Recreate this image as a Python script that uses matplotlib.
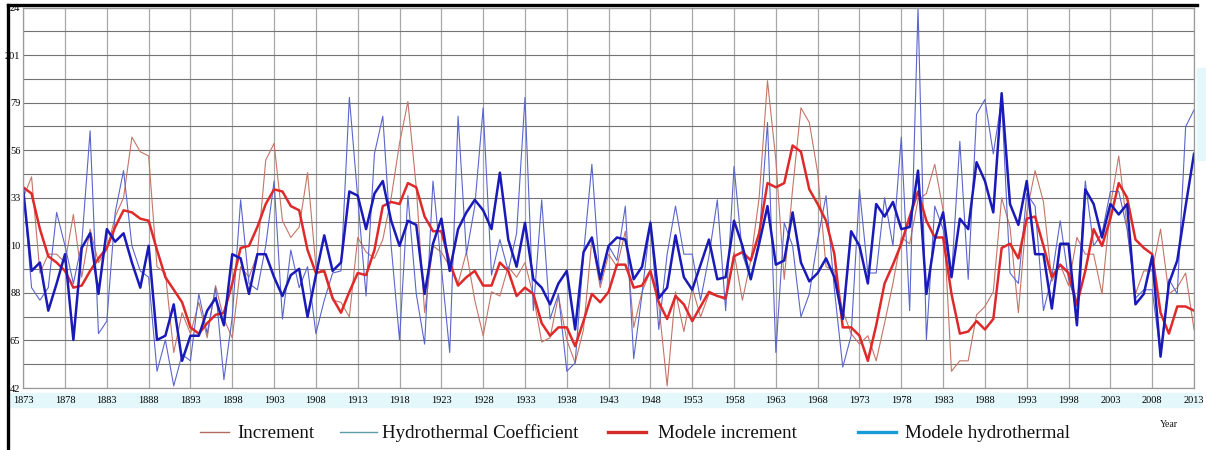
import numpy as np
import matplotlib.pyplot as plt
from matplotlib.lines import Line2D
from matplotlib.patches import Rectangle

plt.rcParams['font.family'] = ['Liberation Serif', 'DejaVu Serif']

years = np.arange(1873, 2014)

increment = [
    133, 143, 97, 106, 106, 102, 125, 95, 118, 102,   # 1873
    108, 124, 133, 162, 155, 153, 100, 97, 59, 78,    # 1883
    68, 83, 66, 91, 75, 66, 100, 95, 106, 151,        # 1893
    159, 122, 114, 119, 145, 100, 97, 84, 83, 76,     # 1903
    114, 107, 104, 113, 133, 159, 179, 138, 78, 110,  # 1913
    107, 100, 92, 107, 84, 67, 88, 86, 100, 95,       # 1923
    102, 86, 64, 66, 86, 65, 54, 70, 113, 90,         # 1933
    106, 100, 117, 71, 88, 98, 82, 43, 88, 69,        # 1943
    90, 76, 87, 86, 84, 107, 84, 103, 133, 189,       # 1953
    151, 94, 137, 176, 169, 145, 100, 98, 79, 68,     # 1963
    63, 67, 55, 73, 92, 114, 111, 132, 135, 149,      # 1973
    127, 50, 55, 55, 77, 81, 88, 133, 119, 78,        # 1983
    126, 146, 131, 93, 101, 91, 114, 106, 106, 87,    # 1993
    129, 153, 119, 87, 98, 98, 118, 87, 90, 97,       # 2003
    70,
]

hydro_coef = [
    138, 90, 84, 90, 126, 110, 92, 111, 165, 68,
    74, 126, 146, 110, 98, 95, 50, 65, 43, 58,
    55, 87, 68, 90, 46, 76, 132, 92, 89, 110,
    141, 75, 108, 90, 100, 68, 84, 97, 98, 181,
    133, 86, 154, 172, 110, 65, 134, 87, 63, 141,
    100, 59, 172, 106, 129, 176, 96, 113, 98, 116,
    181, 79, 132, 75, 87, 50, 54, 106, 149, 92,
    110, 103, 129, 56, 87, 122, 70, 106, 129, 106,
    106, 84, 105, 132, 79, 148, 106, 94, 113, 169,
    59, 121, 110, 76, 87, 113, 134, 89, 52, 67,
    137, 97, 97, 133, 110, 162, 79, 224, 65, 129,
    118, 95, 160, 94, 173, 180, 154, 180, 97, 92,
    135, 129, 79, 95, 122, 94, 81, 141, 110, 116,
    136, 136, 118, 85, 89, 89, 58, 94, 87, 167,
    175,
]

model_increment = [
    138, 135, 118, 105, 102, 98, 90, 91, 98, 104,
    109, 119, 127, 126, 123, 122, 108, 95, 89, 83,
    71, 68, 73, 77, 78, 92, 109, 110, 119, 130,
    137, 136, 129, 127, 108, 97, 98, 85, 78, 88,
    97, 96, 108, 129, 131, 130, 140, 138, 124, 117,
    117, 102, 91, 95, 98, 91, 91, 102, 98, 86,
    90, 87, 73, 67, 71, 71, 62, 74, 87, 83,
    88, 101, 101, 90, 91, 98, 83, 75, 86, 82,
    74, 81, 88, 86, 85, 105, 107, 103, 116, 140,
    138, 140, 158, 155, 137, 130, 122, 106, 71, 71,
    67, 55, 72, 92, 101, 111, 124, 136, 122, 114,
    114, 87, 68, 69, 74, 70, 75, 109, 111, 104,
    123, 124, 110, 95, 101, 97, 82, 98, 118, 110,
    123, 140, 133, 113, 109, 106, 78, 68, 81, 81,
    79,
]

model_hydro = [
    137, 98, 102, 79, 92, 106, 65, 109, 116, 87,
    118, 112, 116, 102, 90, 110, 65, 67, 82, 55,
    67, 67, 79, 85, 72, 106, 104, 87, 106, 106,
    95, 86, 96, 99, 76, 96, 115, 98, 102, 136,
    134, 118, 135, 141, 122, 110, 122, 120, 87, 111,
    123, 98, 118, 126, 132, 127, 118, 145, 113, 100,
    121, 94, 90, 82, 92, 98, 70, 107, 114, 94,
    110, 114, 113, 94, 100, 121, 85, 90, 115, 95,
    89, 101, 113, 94, 95, 122, 110, 94, 111, 129,
    101, 103, 126, 102, 93, 97, 104, 95, 75, 117,
    110, 92, 130, 124, 131, 118, 119, 146, 87, 113,
    126, 95, 123, 118, 150, 141, 126, 183, 130, 120,
    141, 106, 106, 80, 111, 111, 72, 137, 130, 114,
    130, 125, 130, 82, 87, 105, 57, 92, 103, 129,
    154,
]

y_ticks = [42, 64.75, 87.5, 110.25, 133, 155.75, 178.5, 201.25, 224]
y_labels = ['42', '65', '88', '10', '33', '56', '79', '201', '24']
x_ticks = np.arange(1873, 2014, 5)

legend_labels = ['Increment', 'Hydrothermal Coefficient', 'Modele increment', 'Modele hydrothermal']

W, H = 1206, 450


def fx(x):
    return x / W


def fy(y):
    return 1 - y / H


fig = plt.figure(figsize=(W / 100, H / 100), dpi=100)
fig.patch.set_facecolor('white')

# faint cyan strip behind the year labels
fig.add_artist(Rectangle((fx(10), fy(407)), fx(1190), 14 / H, transform=fig.transFigure,
                         color='#e4f8fb', zorder=-1))
fig.add_artist(Rectangle((fx(1197), fy(160)), fx(9), 92 / H, transform=fig.transFigure,
                         color='#e4f8fb', zorder=-1))

ax = fig.add_axes([fx(23.2), fy(388), (1194 - 23.2) / W, (388 - 7.5) / H])
ax.set_facecolor('white')

ax.plot(years, increment, color='#c57466', lw=0.8)
ax.plot(years, hydro_coef, color='#5a66cc', lw=0.8)
ax.plot(years, model_increment, color='#de2a2a', lw=1.8)
ax.plot(years, model_hydro, color='#1a1ab8', lw=1.8)

ax.set_xlim(1873, 2013)
ax.set_ylim(42, 224)
ax.set_xticks(x_ticks)
ax.set_xticklabels([str(t) for t in x_ticks], fontsize=7.5)
ax.set_yticks(y_ticks)
ax.set_yticklabels(y_labels, fontsize=7.5)
ax.set_yticks(np.arange(42 + 11.375, 224, 22.75), minor=True)
ax.tick_params(axis='x', length=0, pad=6)
ax.tick_params(axis='y', which='both', length=0, pad=2)
ax.grid(axis='x', color='#a8a8a8', lw=0.9)
ax.grid(axis='y', which='both', color='#737373', lw=0.8)
ax.set_axisbelow(True)
for s in ax.spines.values():
    s.set_color('#9a9a9a')
    s.set_linewidth(0.9)

# black border of the frame (top and left)
fig.add_artist(Line2D([fx(8), fx(1197)], [fy(5), fy(5)], color='black', lw=2.4,
                      transform=fig.transFigure, zorder=5))
fig.add_artist(Line2D([fx(8), fx(8)], [fy(5), 0], color='black', lw=2.4,
                      transform=fig.transFigure, zorder=5))

# legend drawn by hand below the plot
leg_colors = ['#b06a60', '#5f9ea8', '#d42a2a', '#1a9ad6']
leg_widths = [1.0, 1.0, 2.4, 2.4]
leg_lines = [(200, 229), (340, 377), (608, 646), (858, 896)]
leg_text_x = [237, 382, 658, 905]
for lbl, c, w, (x0, x1), tx in zip(legend_labels, leg_colors, leg_widths, leg_lines, leg_text_x):
    fig.add_artist(Line2D([fx(x0), fx(x1)], [fy(431.5), fy(431.5)], color=c, lw=w,
                          transform=fig.transFigure))
    fig.text(fx(tx), fy(438), lbl, fontsize=13.7, va='baseline', ha='left', color='#111111')

fig.text(fx(1160), fy(427), 'Year', fontsize=7, va='baseline', ha='left', color='#111111')

fig.savefig('out.png', dpi=100)
